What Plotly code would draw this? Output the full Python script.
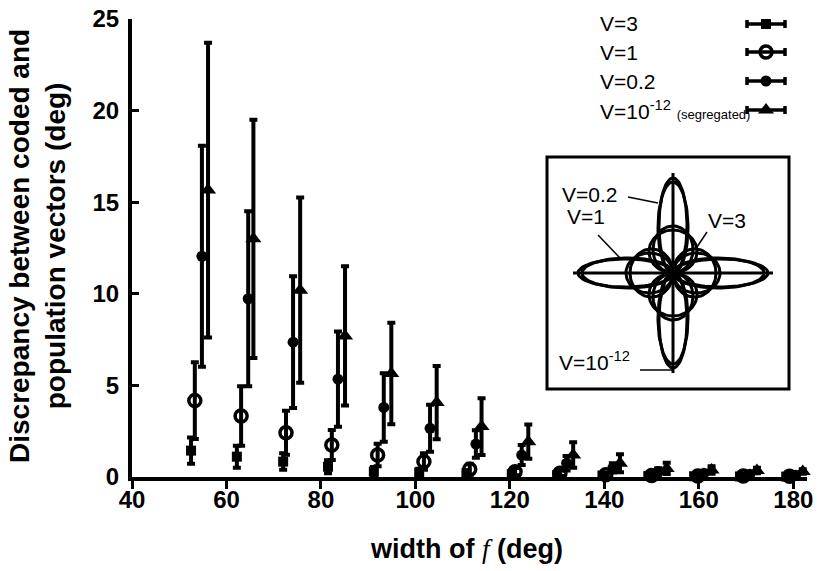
import numpy as np
import plotly.graph_objects as go

# ---------------- data ----------------
series_names = ["V=3", "V=1", "V=0.2",
                "V=10<sup>-12</sup> <span style='font-size:13px'>(segregated)</span>"]

x_v3 = [52.5, 62.2, 72.0, 81.5, 91.2, 100.8, 110.8, 120.4, 130.0, 139.6, 149.3, 159.0, 168.7, 178.5]
x_v1 = [53.3, 63.1, 72.6, 82.3, 92.0, 101.8, 111.5, 121.1, 130.6, 140.3, 150.0, 159.8, 169.4, 179.2]
x_v02 = [54.8, 64.6, 74.1, 83.6, 93.3, 103.1, 112.8, 122.5, 132.0, 141.8, 151.4, 161.1, 170.8, 180.5]
x_vseg = [56.1, 65.7, 75.6, 85.1, 94.9, 104.5, 114.0, 123.9, 133.4, 143.3, 153.2, 162.7, 172.3, 182.0]

y_v3 = [1.44, 1.11, 0.84, 0.56, 0.29, 0.25, 0.2, 0.15, 0.1, 0.08, 0.05, 0.04, 0.03, 0.02]
e_v3 = [0.72, 0.6, 0.45, 0.35, 0.25, 0.2, 0.15, 0.12, 0.1, 0.08, 0.06, 0.05, 0.04, 0.03]

y_v1 = [4.17, 3.33, 2.42, 1.75, 1.2, 0.84, 0.42, 0.29, 0.2, 0.12, 0.08, 0.06, 0.05, 0.04]
e_v1 = [2.1, 1.63, 1.2, 0.82, 0.62, 0.45, 0.3, 0.2, 0.15, 0.1, 0.08, 0.06, 0.05, 0.04]

y_v02 = [12.05, 9.73, 7.36, 5.34, 3.8, 2.66, 1.8, 1.2, 0.75, 0.5, 0.3, 0.2, 0.15, 0.1]
e_v02 = [6.03, 4.77, 3.6, 2.6, 1.87, 1.28, 0.75, 0.55, 0.4, 0.25, 0.18, 0.12, 0.1, 0.08]

y_vseg = [15.66, 13.0, 10.2, 7.7, 5.65, 4.06, 2.75, 1.93, 1.2, 0.75, 0.47, 0.38, 0.35, 0.3]
e_vseg = [8.04, 6.5, 5.06, 3.8, 2.77, 2.0, 1.55, 0.94, 0.7, 0.49, 0.31, 0.2, 0.15, 0.12]

x_ticks = [40, 60, 80, 100, 120, 140, 160, 180]
y_ticks = [0, 5, 10, 15, 20, 25]

# inset: schematic four-lobed tuning curves (petal length / width, in inset px units)
inset_labels = ["V=0.2", "V=10<sup>-12</sup>", "V=1", "V=3"]
petal_len = [91, 95, 47, 43]
petal_wid = [30, 28, 40, 48]

# ---------------- figure ----------------
W, H = 824, 571
PL, PT, PR, PB = 132, 19, 807, 477          # plot area in screen pixels
ML, MT = PL, PT
MR, MB = W - PR, H - PB
PW, PH = PR - PL, PB - PT

def px_x(p):
    return (p - PL) / PW

def px_y(p):
    return (PB - p) / PH

FONT = "Liberation Sans, Arial, sans-serif"
fig = go.Figure()

styles = [
    dict(symbol="square", size=10, color="black", line=dict(width=0)),
    dict(symbol="circle-open", size=12, color="black", line=dict(width=3.5)),
    dict(symbol="circle", size=11, color="black", line=dict(width=0)),
    dict(symbol="triangle-up", size=14, color="black", line=dict(width=0)),
]
xs = [x_v3, x_v1, x_v02, x_vseg]
ys = [y_v3, y_v1, y_v02, y_vseg]
es = [e_v3, e_v1, e_v02, e_vseg]

for name, xv, yv, ev, st in zip(series_names, xs, ys, es, styles):
    fig.add_trace(go.Scatter(
        x=xv, y=yv, mode="markers", name=name, marker=st, cliponaxis=False,
        error_y=dict(type="data", array=ev, visible=True, color="black",
                     thickness=4, width=4),
        showlegend=False,
    ))

# legend keys on an auxiliary pixel-like axis
leg_rows = [24, 52, 81, 110]
for name, row, st in zip(series_names, leg_rows, styles):
    fig.add_trace(go.Scatter(
        x=[766], y=[row], mode="markers", marker=st, cliponaxis=False,
        error_x=dict(type="constant", value=19, color="black", thickness=3.5, width=4),
        xaxis="x3", yaxis="y3", showlegend=False, hoverinfo="skip",
    ))
    fig.add_annotation(xref="paper", yref="paper", x=px_x(598), y=px_y(row),
                       xanchor="left", yanchor="middle", showarrow=False,
                       text=name, font=dict(family=FONT, size=21, color="black"))

# inset petals
for L, Wd in zip(petal_len, petal_wid):
    xx, yy = [], []
    t = np.linspace(0, 2 * np.pi, 80)
    for ang in [0, 90, 180, 270]:
        a = np.deg2rad(ang)
        ex = L / 2 + (L / 2) * np.cos(t)
        ey = (Wd / 2) * np.sin(t)
        xx += list(ex * np.cos(a) - ey * np.sin(a)) + [None]
        yy += list(ex * np.sin(a) + ey * np.cos(a)) + [None]
    fig.add_trace(go.Scatter(x=xx, y=yy, mode="lines", xaxis="x2", yaxis="y2",
                             line=dict(color="black", width=3), showlegend=False,
                             hoverinfo="skip"))

# inset cross lines
fig.add_shape(type="line", xref="x2", yref="y2", x0=-100, x1=100, y0=0, y1=0,
              line=dict(color="black", width=3))
fig.add_shape(type="line", xref="x2", yref="y2", x0=0, x1=0, y0=-100, y1=100,
              line=dict(color="black", width=3))
# inset box
fig.add_shape(type="rect", xref="paper", yref="paper",
              x0=px_x(547), x1=px_x(789), y0=px_y(389), y1=px_y(157),
              line=dict(color="black", width=3), fillcolor="rgba(0,0,0,0)")

# inset labels + leaders
lab_pos = [(-113, 79), (-116, -88), (-108, 57), (33, 53)]
for lab, (lx, ly) in zip(inset_labels, lab_pos):
    fig.add_annotation(xref="x2", yref="y2", x=lx, y=ly, xanchor="left", yanchor="middle",
                       showarrow=False, text=lab, font=dict(family=FONT, size=21, color="black"))
leaders = [((-45, 76), (-15, 70)), ((-33, -97), (0, -97)), ((-75, 38), (-53, 15)), ((34, 41), (22, 23))]
for (a0, a1) in leaders:
    fig.add_shape(type="line", xref="x2", yref="y2", x0=a0[0], y0=a0[1], x1=a1[0], y1=a1[1],
                  line=dict(color="black", width=1.5))

# axis titles as annotations (fixed positions)
fig.add_annotation(xref="paper", yref="paper", x=px_x(37), y=px_y(246), textangle=-90,
                   xanchor="center", yanchor="middle", showarrow=False,
                   text="Discrepancy between coded and<br>population vectors (deg)",
                   font=dict(family=FONT, size=28, color="black", weight="bold"))
fig.add_annotation(xref="paper", yref="paper", x=px_x(466), y=px_y(549),
                   xanchor="center", yanchor="middle", showarrow=False,
                   text="width of <span style='font-family:Liberation Serif;font-style:italic;font-weight:normal'>f</span> (deg)",
                   font=dict(family=FONT, size=27, color="black", weight="bold"))

fig.update_layout(
    width=W, height=H, margin=dict(l=ML, r=MR, t=MT, b=MB, autoexpand=False),
    paper_bgcolor="white", plot_bgcolor="white",
    font=dict(family=FONT, color="black"),
    xaxis=dict(range=[40, 182.9], tickvals=x_ticks, ticks="outside", ticklen=8, tickwidth=3,
               tickcolor="black", showline=True, linewidth=4, linecolor="black",
               showgrid=False, zeroline=False, automargin=False, ticklabelstandoff=-10,
               ticklabeloverflow="allow",
               tickfont=dict(family=FONT, size=24, color="black", weight="bold")),
    yaxis=dict(range=[0, 25], tickvals=y_ticks, ticks="inside", ticklen=7, tickwidth=3,
               tickcolor="black", showline=True, linewidth=4, linecolor="black",
               showgrid=False, zeroline=False, ticklabelstandoff=4, automargin=False,
               ticklabeloverflow="allow",
               tickfont=dict(family=FONT, size=24, color="black", weight="bold")),
    xaxis2=dict(domain=[px_x(547), px_x(789)], range=[-126, 116], anchor="y2",
                visible=False, fixedrange=True),
    yaxis2=dict(domain=[px_y(389), px_y(157)], range=[-116, 116], anchor="x2",
                visible=False, fixedrange=True),
    xaxis3=dict(domain=[px_x(740), px_x(792)], range=[740, 792], anchor="y3", visible=False),
    yaxis3=dict(domain=[px_y(124), 1.0], range=[124, 19], anchor="x3", visible=False),
)

# remove the default 8px page margin so the figure starts at the window corner
fig.write_html("out.html", config={"displayModeBar": False},
               post_script="document.body.style.margin='0';")
